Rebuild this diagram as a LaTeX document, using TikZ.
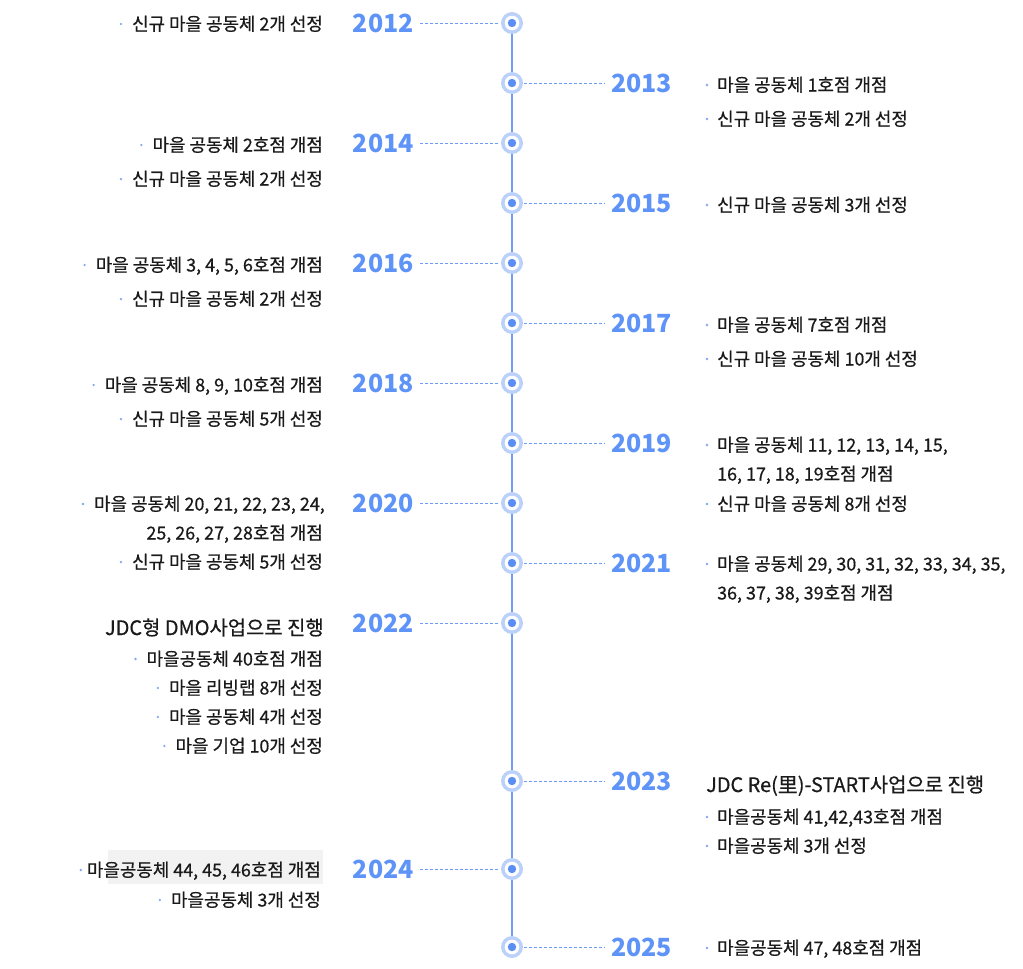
\documentclass[tikz,border=0pt]{standalone}
\usepackage{fontspec}
\setmainfont{Noto Sans CJK KR}
\newfontfamily\itemfont[FakeBold=0.6]{Noto Sans CJK KR}
\definecolor{yearblue}{HTML}{5E93F8}
\definecolor{ringlight}{HTML}{BCD1FA}
\definecolor{lineblue}{HTML}{6E9CF6}
\definecolor{dotblue}{HTML}{5A8EF5}
\definecolor{bulblue}{HTML}{7EA6F7}
\definecolor{txt}{HTML}{1A1A1A}
\definecolor{hl}{HTML}{F2F2F2}
\begin{document}
\begin{tikzpicture}[x=1pt,y=-1pt,
  yr/.style={font=\fontsize{25}{25}\selectfont\bfseries, text=yearblue, inner sep=0pt, text height=18pt, text depth=0pt},
  item/.style={font=\itemfont\fontsize{17.9}{18}\selectfont, text=txt, inner sep=0pt, text height=13pt, text depth=0pt},
  head/.style={font=\itemfont\fontsize{19.9}{20}\selectfont, text=txt, inner sep=0pt, text height=14pt, text depth=0pt},
  bul/.style={circle, fill=bulblue, inner sep=0pt, minimum size=2.6pt},
  conn/.style={draw=lineblue, dash pattern=on 3pt off 2pt, line width=0.9pt},
  ring/.style={circle, fill=ringlight, inner sep=0pt, minimum size=22pt},
]
\useasboundingbox (0,0) rectangle (1023,969);
% highlight behind 2024 item
\fill[hl] (108,850) rectangle (323,884);
% spine
\draw[lineblue, line width=1.4pt] (512,23) -- (512,947);
% markers
\foreach \n/\y in {12/23,13/83,14/143,15/203,16/263,17/323,18/383,19/443,20/503,21/563,22/623,23/781,24/869,25/947}{
  \node[ring] (c\n) at (512,\y) {};
  \fill[white] (512,\y) circle (7.3pt);
  \fill[dotblue] (512,\y) circle (4.2pt);
}
% years left
\node[yr, anchor=east] (y12) at (414,23) {2012};
\node[yr, anchor=east] (y14) at (414,143) {2014};
\node[yr, anchor=east] (y16) at (414,263) {2016};
\node[yr, anchor=east] (y18) at (414,383) {2018};
\node[yr, anchor=east] (y20) at (414,503) {2020};
\node[yr, anchor=east] (y22) at (414,623) {2022};
\node[yr, anchor=east] (y24) at (414,869) {2024};
% years right
\node[yr, anchor=west] (y13) at (611,83) {2013};
\node[yr, anchor=west] (y15) at (611,203) {2015};
\node[yr, anchor=west] (y17) at (611,323) {2017};
\node[yr, anchor=west] (y19) at (611,443) {2019};
\node[yr, anchor=west] (y21) at (611,563) {2021};
\node[yr, anchor=west] (y23) at (611,781) {2023};
\node[yr, anchor=west] (y25) at (611,947) {2025};
% connectors
\foreach \n in {12,14,16,18,20,22,24}{
  \draw[conn] ([xshift=6pt]y\n.east) -- ([xshift=-1pt]c\n.west);
}
\foreach \n in {13,15,17,19,21,23,25}{
  \draw[conn] ([xshift=1pt]c\n.east) -- ([xshift=-6pt]y\n.west);
}
% left items
\node[item, anchor=east] (t12a) at (323,24) {신규 마을 공동체 2개 선정};
\node[item, anchor=east] (t14a) at (323,145) {마을 공동체 2호점 개점};
\node[item, anchor=east] (t14b) at (323,179) {신규 마을 공동체 2개 선정};
\node[item, anchor=east] (t16a) at (323,265) {마을 공동체 3, 4, 5, 6호점 개점};
\node[item, anchor=east] (t16b) at (323,299) {신규 마을 공동체 2개 선정};
\node[item, anchor=east] (t18a) at (323,385) {마을 공동체 8, 9, 10호점 개점};
\node[item, anchor=east] (t18b) at (323,419) {신규 마을 공동체 5개 선정};
\node[item, anchor=east] (t20a) at (325,504) {마을 공동체 20, 21, 22, 23, 24,};
\node[item, anchor=east] (t20c) at (323,533) {25, 26, 27, 28호점 개점};
\node[item, anchor=east] (t20b) at (323,562) {신규 마을 공동체 5개 선정};
\node[head, anchor=east] (t22h) at (324,628) {JDC형 DMO사업으로 진행};
\node[item, anchor=east] (t22a) at (323,659) {마을공동체 40호점 개점};
\node[item, anchor=east] (t22b) at (323,688) {마을 리빙랩 8개 선정};
\node[item, anchor=east] (t22c) at (323,717) {마을 공동체 4개 선정};
\node[item, anchor=east] (t22d) at (323,746) {마을 기업 10개 선정};
\node[item, anchor=east] (t24a) at (321,870) {마을공동체 44, 45, 46호점 개점};
\node[item, anchor=east] (t24b) at (321,900) {마을공동체 3개 선정};
\foreach \t in {t12a,t14a,t14b,t16a,t16b,t18a,t18b,t20a,t20b,t22a,t22b,t22c,t22d,t24b}{
  \node[bul] (b\t) at ([xshift=-11pt]\t.west) {};
}
\node[bul] (bt24a) at ([xshift=-6pt]t24a.west) {};
% right items
\node[item, anchor=west] (t13a) at (717,85) {마을 공동체 1호점 개점};
\node[item, anchor=west] (t13b) at (717,119) {신규 마을 공동체 2개 선정};
\node[item, anchor=west] (t15a) at (717,205) {신규 마을 공동체 3개 선정};
\node[item, anchor=west] (t17a) at (717,325) {마을 공동체 7호점 개점};
\node[item, anchor=west] (t17b) at (717,359) {신규 마을 공동체 10개 선정};
\node[item, anchor=west] (t19a) at (717,445) {마을 공동체 11, 12, 13, 14, 15,};
\node[item, anchor=west] (t19c) at (717,474) {16, 17, 18, 19호점 개점};
\node[item, anchor=west] (t19b) at (717,504) {신규 마을 공동체 8개 선정};
\node[item, anchor=west] (t21a) at (717,564) {마을 공동체 29, 30, 31, 32, 33, 34, 35,};
\node[item, anchor=west] (t21c) at (717,593) {36, 37, 38, 39호점 개점};
\node[head, anchor=west] (t23h) at (706,785) {JDC Re(里)-START사업으로 진행};
\node[item, anchor=west] (t23a) at (717,817) {마을공동체 41,42,43호점 개점};
\node[item, anchor=west] (t23b) at (717,846) {마을공동체 3개 선정};
\node[item, anchor=west] (t25a) at (717,948) {마을공동체 47, 48호점 개점};
\foreach \t in {t13a,t13b,t15a,t17a,t17b,t19a,t19b,t21a,t23a,t23b,t25a}{
  \node[bul] (b\t) at ([xshift=-10pt]\t.west) {};
}
\end{tikzpicture}
\end{document}
